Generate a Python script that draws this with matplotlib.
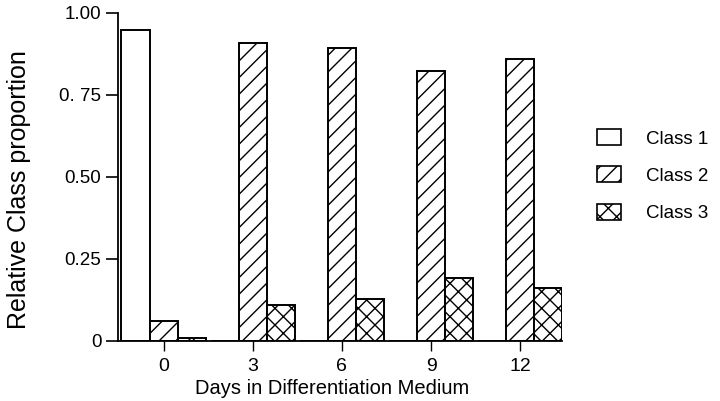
import numpy as np
import matplotlib.pyplot as plt
from matplotlib.patches import Patch

# Data
days = ["0", "3", "6", "9", "12"]
class1 = [0.949, 0, 0, 0, 0]
class2 = [0.062, 0.908, 0.893, 0.823, 0.858]
class3 = [0.010, 0.108, 0.127, 0.192, 0.162]
labels = ["Class 1", "Class 2", "Class 3"]
yticks = [0, 0.25, 0.50, 0.75, 1.00]
ytick_labels = ["0", "0.25", "0.50", "0. 75", "1.00"]

plt.rcParams['font.family'] = ['Liberation Sans', 'DejaVu Sans']
plt.rcParams['hatch.linewidth'] = 1.0

fig = plt.figure(figsize=(7.2, 4.01), dpi=100)
ax = fig.add_axes([0.164, 0.150, 0.617, 0.818])

x = np.arange(len(days))
w = 0.315
style = dict(edgecolor='black', linewidth=1.4, facecolor='white')
ax.bar(x - w, class1, w, **style)
ax.bar(x, class2, w, hatch='//', **style)
ax.bar(x + w, class3, w, hatch='xx', **style)

ax.set_xlim(-0.51, x[-1] + 1.5 * w)
ax.set_ylim(0, 1.0)
ax.set_xticks(x)
ax.set_xticklabels(days, fontsize=14, fontstretch='condensed')
ax.set_yticks(yticks)
ax.set_yticklabels(ytick_labels, fontsize=13.5)
ax.tick_params(axis='y', direction='out', length=9, width=1.2, pad=3)
ax.tick_params(axis='x', direction='out', length=7, width=1.0, pad=5)

for s in ['top', 'right']:
    ax.spines[s].set_visible(False)
for s in ['left', 'bottom']:
    ax.spines[s].set_linewidth(1.3)

ax.set_ylabel("Relative Class proportion", fontsize=18)
ax.yaxis.set_label_coords(-0.196, 0.46)
ax.set_xlabel("Days in Differentiation Medium", fontsize=14.5, labelpad=2)
ax.xaxis.set_label_coords(0.482, -0.115)

handles = [Patch(facecolor='white', edgecolor='black', linewidth=1.2),
           Patch(facecolor='white', edgecolor='black', linewidth=1.2, hatch='//'),
           Patch(facecolor='white', edgecolor='black', linewidth=1.2, hatch='xx')]
fig.legend(handles, labels, loc='upper left', bbox_to_anchor=(597 / 720, 1 - 129 / 401),
           frameon=False, fontsize=13.5, borderpad=0, borderaxespad=0,
           handlelength=1.3, handleheight=0.95, labelspacing=1.0, handletextpad=1.3)

fig.savefig("out.png", dpi=100)
